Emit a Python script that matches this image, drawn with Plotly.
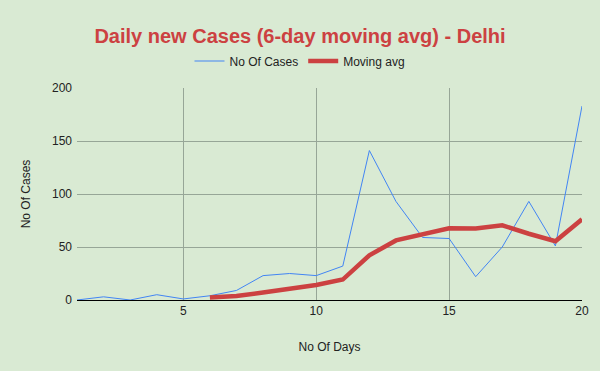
import plotly.graph_objects as go

days = list(range(1, 21))
cases = [0, 3, 0, 5, 1, 4, 9, 23, 25, 23, 32, 141, 93, 59, 58, 22, 50, 93, 51, 183]
avg_days = list(range(6, 21))
moving_avg = [2.3, 3.7, 7, 11, 14.2, 19.3, 42.2, 56.2, 62.2, 67.7, 67.5, 70.5, 62.5, 55.5, 76.2]

BG = "#d9ead3"
GRID = "#97a697"
FONT = "Liberation Sans, Arial, sans-serif"

fig = go.Figure()
fig.add_trace(go.Scatter(x=days, y=cases, mode="lines", name="No Of Cases",
                         line=dict(color="#4285f4", width=1)))
fig.add_trace(go.Scatter(x=avg_days, y=moving_avg, mode="lines", name="Moving avg",
                         line=dict(color="#cc4141", width=4.5)))

fig.update_layout(
    width=600, height=371,
    paper_bgcolor=BG, plot_bgcolor=BG,
    margin=dict(l=77, r=18, t=88, b=71, autoexpand=False),
    font=dict(family=FONT, size=12, color="#222222"),
    title=dict(text="<b>Daily new Cases (6-day moving avg) - Delhi</b>",
               x=0.5, xref="container", xanchor="center",
               y=1 - 36 / 371, yref="container", yanchor="middle",
               font=dict(family=FONT, size=20, color="#cc4141")),
    legend=dict(orientation="h", x=(300 - 77) / 505, xref="paper", xanchor="center",
                y=1 + (88 - 61) / 212, yref="paper", yanchor="middle",
                font=dict(size=12, color="#222222"), itemwidth=30,
                bgcolor="rgba(0,0,0,0)"),
    showlegend=True,
)
fig.update_xaxes(range=[1, 20], tickvals=[5, 10, 15, 20], showgrid=True,
                 gridcolor=GRID, gridwidth=1, zeroline=False,
                 showline=True, linecolor="#000000", linewidth=1,
                 ticks="", title=dict(text="No Of Days", standoff=25,
                                      font=dict(size=12, color="#222222")))
fig.update_yaxes(range=[0, 200], tickvals=[0, 50, 100, 150, 200], showgrid=True,
                 gridcolor=GRID, gridwidth=1, zeroline=False, showline=False,
                 ticks="", ticklabelstandoff=4,
                 title=dict(text="No Of Cases", standoff=18,
                            font=dict(size=12, color="#222222")))

fig.write_html(
    "out.html",
    config={"displayModeBar": False},
    post_script="document.body.style.margin='0';document.body.style.background='" + BG + "';",
)
